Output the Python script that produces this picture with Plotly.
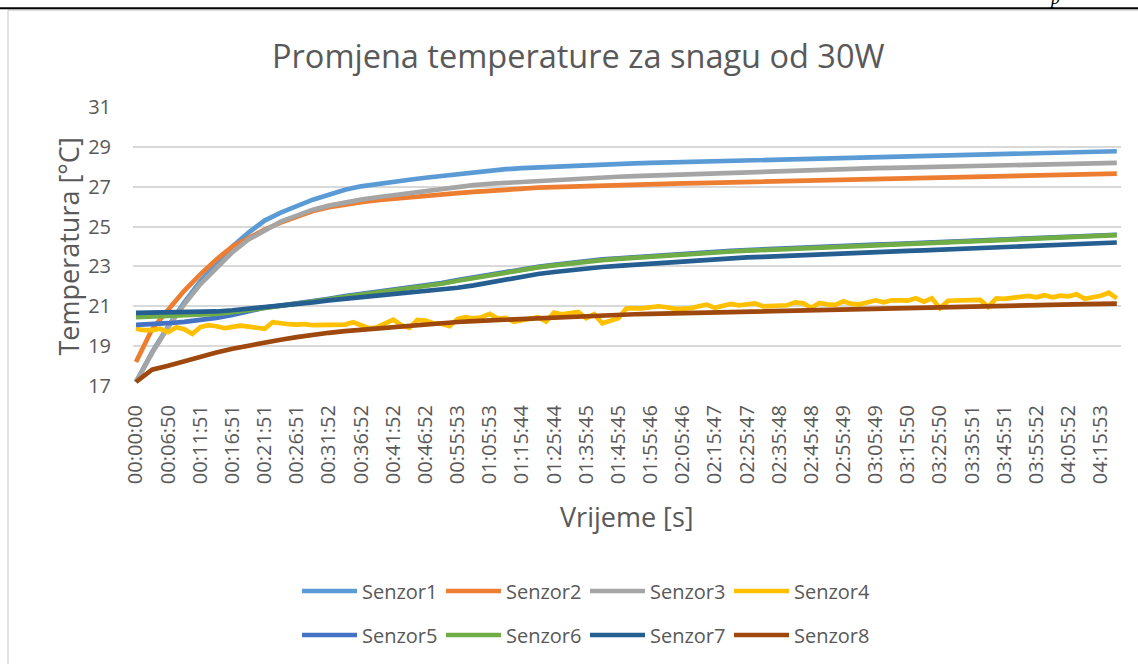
import plotly.graph_objects as go

# Time labels shown on the category axis (one every second sample of the smooth series)
TIME_LABELS = [
    "00:00:00", "00:06:50", "00:11:51", "00:16:51", "00:21:51", "00:26:51",
    "00:31:52", "00:36:52", "00:41:52", "00:46:52", "00:55:53", "01:05:53",
    "01:15:44", "01:25:44", "01:35:45", "01:45:45", "01:55:46", "02:05:46",
    "02:15:47", "02:25:47", "02:35:48", "02:45:48", "02:55:49", "03:05:49",
    "03:15:50", "03:25:50", "03:35:51", "03:45:51", "03:55:52", "04:05:52",
    "04:15:53",
]

# Temperatures [°C], sampled twice per labelled interval
SENZOR1 = [17.2, 18.7, 20.0, 21.2, 22.25, 23.15, 24.0, 24.7, 25.3, 25.7, 26.05, 26.35,
           26.6, 26.85, 27.02, 27.15, 27.27, 27.35, 27.45, 27.53, 27.65, 27.75, 27.82,
           27.88, 27.93, 27.97, 28.0, 28.05, 28.1, 28.13, 28.15, 28.17, 28.2, 28.22,
           28.25, 28.27, 28.3, 28.32, 28.33, 28.35, 28.36, 28.38, 28.4, 28.42, 28.44,
           28.47, 28.5, 28.52, 28.54, 28.56, 28.57, 28.58, 28.6, 28.62, 28.64, 28.66,
           28.68, 28.7, 28.72, 28.74, 28.76, 28.78]
SENZOR2 = [18.2, 19.85, 20.82, 21.78, 22.6, 23.35, 24.0, 24.45, 24.85, 25.2, 25.5, 25.78,
           25.97, 26.12, 26.22, 26.32, 26.4, 26.46, 26.53, 26.6, 26.68, 26.74, 26.8,
           26.85, 26.9, 26.95, 26.98, 27.01, 27.04, 27.07, 27.1, 27.12, 27.14, 27.15,
           27.17, 27.18, 27.2, 27.21, 27.23, 27.25, 27.27, 27.28, 27.3, 27.32, 27.34,
           27.36, 27.38, 27.4, 27.42, 27.45, 27.47, 27.49, 27.51, 27.53, 27.55, 27.57,
           27.59, 27.61, 27.62, 27.63, 27.65, 27.66]
SENZOR3 = [17.2, 18.65, 19.95, 21.1, 22.1, 22.95, 23.72, 24.35, 24.83, 25.25, 25.55, 25.85,
           26.05, 26.22, 26.35, 26.47, 26.58, 26.68, 26.78, 26.9, 27.0, 27.08, 27.15,
           27.2, 27.25, 27.3, 27.35, 27.38, 27.42, 27.46, 27.5, 27.53, 27.56, 27.59,
           27.62, 27.65, 27.68, 27.71, 27.74, 27.77, 27.8, 27.83, 27.85, 27.87, 27.89,
           27.91, 27.93, 27.95, 27.97, 27.99, 28.0, 28.02, 28.04, 28.06, 28.08, 28.1,
           28.12, 28.14, 28.15, 28.17, 28.18, 28.2]
SENZOR5 = [20.07, 20.1, 20.15, 20.22, 20.3, 20.42, 20.56, 20.75, 20.93, 21.03, 21.13,
           21.26, 21.38, 21.51, 21.61, 21.71, 21.81, 21.92, 22.03, 22.16, 22.31, 22.45,
           22.58, 22.71, 22.83, 22.98, 23.08, 23.18, 23.28, 23.35, 23.41, 23.47, 23.53,
           23.59, 23.65, 23.7, 23.74, 23.78, 23.82, 23.86, 23.9, 23.93, 23.96, 23.99,
           24.03, 24.06, 24.09, 24.12, 24.15, 24.19, 24.22, 24.25, 24.28, 24.31, 24.34,
           24.38, 24.41, 24.45, 24.48, 24.52, 24.55, 24.59]
SENZOR6 = [20.45, 20.48, 20.5, 20.53, 20.57, 20.62, 20.7, 20.8, 20.9, 21.0, 21.1, 21.23,
           21.35, 21.48, 21.58, 21.68, 21.78, 21.89, 22.0, 22.13, 22.28, 22.42, 22.55,
           22.68, 22.8, 22.95, 23.05, 23.15, 23.25, 23.32, 23.38, 23.44, 23.5, 23.56,
           23.62, 23.67, 23.71, 23.75, 23.79, 23.83, 23.87, 23.9, 23.93, 23.96, 24.0,
           24.03, 24.06, 24.09, 24.12, 24.16, 24.19, 24.22, 24.25, 24.29, 24.32, 24.36,
           24.39, 24.43, 24.46, 24.5, 24.53, 24.57]
SENZOR7 = [20.67, 20.68, 20.68, 20.69, 20.71, 20.74, 20.8, 20.87, 20.94, 21.01, 21.1, 21.2,
           21.3, 21.38, 21.45, 21.53, 21.6, 21.66, 21.74, 21.82, 21.93, 22.05, 22.2,
           22.35, 22.48, 22.62, 22.72, 22.82, 22.9, 22.97, 23.03, 23.09, 23.15, 23.21,
           23.26, 23.32, 23.37, 23.41, 23.45, 23.48, 23.52, 23.55, 23.58, 23.61, 23.65,
           23.68, 23.72, 23.75, 23.78, 23.81, 23.84, 23.88, 23.91, 23.95, 23.98, 24.02,
           24.05, 24.08, 24.11, 24.14, 24.17, 24.2]
SENZOR8 = [17.2, 17.82, 18.02, 18.25, 18.48, 18.68, 18.87, 19.03, 19.18, 19.32, 19.45,
           19.57, 19.67, 19.75, 19.82, 19.9, 19.97, 20.03, 20.1, 20.16, 20.21, 20.26,
           20.3, 20.34, 20.38, 20.42, 20.45, 20.48, 20.51, 20.54, 20.57, 20.6, 20.62,
           20.64, 20.66, 20.68, 20.7, 20.72, 20.73, 20.75, 20.77, 20.78, 20.8, 20.82,
           20.84, 20.86, 20.88, 20.9, 20.92, 20.94, 20.96, 20.98, 21.0, 21.02, 21.04,
           21.06, 21.08, 21.09, 21.1, 21.11, 21.12, 21.13]

# Senzor4 is noisy, so it is sampled four times per labelled interval
SENZOR4 = [19.87, 19.8, 19.8, 19.87, 19.7, 19.95, 19.85, 19.62, 19.95, 20.05, 20.0, 19.9,
           19.97, 20.03, 19.98, 19.95, 19.87, 20.2, 20.12, 20.1, 20.08, 20.1, 20.05,
           20.07, 20.05, 20.1, 20.08, 20.2, 20.05, 19.9, 19.95, 20.15, 20.33, 20.05,
           19.92, 20.32, 20.28, 20.15, 20.12, 20.0, 20.37, 20.45, 20.4, 20.45, 20.62,
           20.38, 20.42, 20.22, 20.3, 20.37, 20.45, 20.23, 20.68, 20.6, 20.66, 20.72,
           20.4, 20.6, 20.15, 20.3, 20.4, 20.9, 20.88, 20.9, 20.95, 21.0, 20.95, 20.87,
           20.88, 20.9, 21.0, 21.08, 20.92, 21.0, 21.12, 21.05, 21.1, 21.15, 21.0, 21.02,
           21.0, 21.05, 21.2, 21.15, 20.92, 21.17, 21.1, 21.07, 21.25, 21.12, 21.1,
           21.23, 21.3, 21.2, 21.3, 21.3, 21.28, 21.4, 21.23, 21.4, 20.9, 21.28, 21.28,
           21.27, 21.3, 21.32, 20.97, 21.4, 21.37, 21.42, 21.47, 21.52, 21.45, 21.56,
           21.45, 21.53, 21.5, 21.6, 21.38, 21.45, 21.53, 21.68, 21.4]

SERIES = [
    ("Senzor1", SENZOR1, "#5B9BD5", 2),
    ("Senzor2", SENZOR2, "#ED7D31", 2),
    ("Senzor3", SENZOR3, "#A5A5A5", 2),
    ("Senzor4", SENZOR4, "#FFC000", 4),
    ("Senzor5", SENZOR5, "#4472C4", 2),
    ("Senzor6", SENZOR6, "#70AD47", 2),
    ("Senzor7", SENZOR7, "#255E91", 2),
    ("Senzor8", SENZOR8, "#9E480E", 2),
]

W, H = 1138, 664
ML, MR, MT, MB = 133, 17, 107, 277
PW, PH = W - ML - MR, H - MT - MB
TEXT = "#595959"
GRID = "#D9D9D9"
FONT = "Open Sans"


def px(x):
    return (x - ML) / PW


def py(y):
    return (H - MB - y) / PH


fig = go.Figure()
for i, (name, vals, color, per_label) in enumerate(SERIES):
    xs = [k / per_label for k in range(len(vals))]
    fig.add_trace(go.Scatter(
        x=xs, y=vals, name=name, mode="lines",
        line=dict(color=color, width=4.7),
        legend="legend" if i < 4 else "legend2",
    ))

fig.update_xaxes(
    range=[-0.093, 30.63],
    tickmode="array", tickvals=list(range(len(TIME_LABELS))), ticktext=TIME_LABELS,
    tickangle=-90, tickfont=dict(family=FONT, size=20, color=TEXT),
    showgrid=False, zeroline=False, showline=False, ticks="",
    ticklabelstandoff=14,
)
fig.update_yaxes(
    range=[17, 31], tick0=17, dtick=2,
    tickfont=dict(family=FONT, size=20, color=TEXT),
    showgrid=True, gridcolor=GRID, gridwidth=1.5,
    zeroline=False, showline=False, ticks="",
    ticklabelstandoff=21,
)

legend_style = dict(
    orientation="h", font=dict(family=FONT, size=20, color=TEXT),
    bgcolor="rgba(0,0,0,0)", itemwidth=55, entrywidth=74,
    xanchor="left", yanchor="middle", tracegroupgap=0,
)


def label(text, x, y, size, angle=0):
    return dict(text=text, x=px(x), y=py(y), textangle=angle,
                xref="paper", yref="paper", xanchor="center", yanchor="middle",
                showarrow=False, font=dict(family=FONT, size=size, color=TEXT))


fig.update_layout(
    width=W, height=H,
    margin=dict(l=ML, r=MR, t=MT, b=MB, pad=0),
    paper_bgcolor="white", plot_bgcolor="white",
    showlegend=True,
    legend=dict(x=px(297), y=py(591), **legend_style),
    legend2=dict(x=px(297), y=py(635), **legend_style),
    annotations=[
        label("Promjena temperature za snagu od 30W", 578, 55, 32.5),
        label("Temperatura [°C]", 68, 247, 27, angle=-90),
        label("Vrijeme [s]", 627, 518, 27),
        dict(text="<i>p</i>", x=px(1054), y=py(-2), xanchor="center", yanchor="middle",
             xref="paper", yref="paper", showarrow=False,
             font=dict(family="Liberation Serif", size=18, color="black")),
    ],
    shapes=[
        # chart frame
        dict(type="line", xref="paper", yref="paper", x0=px(8), x1=px(8),
             y0=py(10), y1=py(H + 5), line=dict(color=GRID, width=1.5)),
        dict(type="line", xref="paper", yref="paper", x0=px(8), x1=px(W + 5),
             y0=py(10), y1=py(10), line=dict(color=GRID, width=1.5)),
        # page rule above the chart
        dict(type="line", xref="paper", yref="paper", x0=px(-5), x1=px(W + 5),
             y0=py(8), y1=py(8), line=dict(color="black", width=2)),
    ],
)

fig.write_html("out.html")
